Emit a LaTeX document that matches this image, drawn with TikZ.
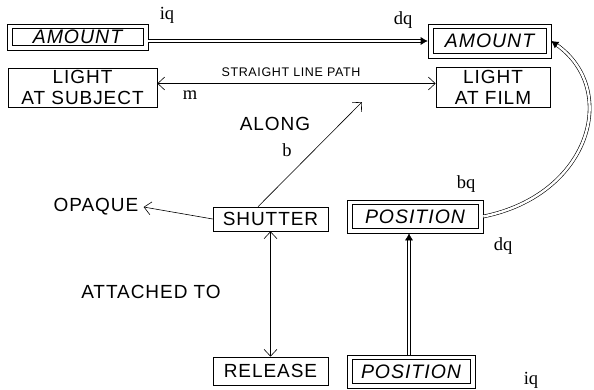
\documentclass[tikz,border=0pt]{standalone}
\usepackage{fontspec}
\setmainfont{Liberation Serif}
\setsansfont{Liberation Sans}[LetterSpace=5]
\usetikzlibrary{arrows.meta}
\begin{document}
\begin{tikzpicture}[x=1pt,y=-1pt,line width=0.6pt,
  boxfont/.style={font=\sffamily\fontsize{19}{21}\selectfont},
  plain/.style={draw,boxfont,align=center,inner sep=0pt},
  % framed box with a second frame drawn inside it
  dbox/.style={draw,inner sep=0pt,
    font=\sffamily\itshape\fontsize{19.5}{22}\selectfont,
    path picture={\draw[line width=0.6pt]
      ([shift={(5pt,-4.5pt)}]path picture bounding box.north west) rectangle
      ([shift={(-5pt,4.5pt)}]path picture bounding box.south east);}},
  rel/.style={boxfont,inner sep=1pt},
  tag/.style={font=\rmfamily\fontsize{18.5}{21}\selectfont,inner sep=0pt},
  barb/.style={-{Straight Barb[length=7pt,width=13pt]}},
  dbarb/.style={{Straight Barb[length=7pt,width=13pt]}-{Straight Barb[length=7pt,width=13pt]}},
  dline/.style={double,double distance=2.4pt,-{Latex[length=7pt,width=8pt]}}]
\useasboundingbox (0,0) rectangle (594,389);

% frames
\node[dbox,minimum width=141pt,minimum height=26pt] (amtL) at (77.5,37) {AMOUNT};
\node[dbox,minimum width=123pt,minimum height=34pt] (amtR) at (489.5,41) {AMOUNT};
\node[plain,minimum width=149pt,minimum height=39pt] (lightS) at (82.5,87.5) {LIGHT\\AT SUBJECT};
\node[plain,minimum width=114pt,minimum height=40pt] (lightF) at (493,87) {LIGHT\\AT FILM};
\node[plain,minimum width=115pt,minimum height=24pt] (shutter) at (270.5,219) {SHUTTER};
\node[dbox,minimum width=136pt,minimum height=33pt] (posT) at (415,216.5) {POSITION};
\node[plain,minimum width=115pt,minimum height=28pt] (release) at (270.5,371) {RELEASE};
\node[dbox,minimum width=128pt,minimum height=33pt] (posB) at (411,371.5) {POSITION};

% free-standing words and tags
\node[rel,inner sep=5pt] (opaque) at (96,207) {OPAQUE};
\node[rel] (along) at (275,124) {ALONG};
\node[rel] (attached) at (151,292) {ATTACHED TO};
\node[font=\sffamily\fontsize{12.5}{15}\selectfont,inner sep=0pt] (slp) at (291,72) {STRAIGHT LINE PATH};
\node[tag] (iqA) at (167,15) {iq};
\node[tag] (dqA) at (403,20) {dq};
\node[tag] (mA) at (190,95) {m};
\node[tag] (bA) at (287,150) {b};
\node[tag] (bqA) at (466,184) {bq};
\node[tag] (dqB) at (503,246) {dq};
\node[tag] (iqB) at (531,380) {iq};

% connectors
\coordinate (onpath) at (362,102);
\draw[dline] (amtL.east |- amtR.west) -- (amtR.west);
\draw[dbarb] ([yshift=4pt]lightS.east) -- ([yshift=4pt]lightS.east -| lightF.west);
\draw[barb] ([xshift=-12.5pt]shutter.north) -- (onpath);
\draw[barb] (shutter.west) -- (opaque.east);
\draw[dbarb] (shutter.south) -- (release.north);
\draw[dline] (posB.north -| 409,0) -- (posT.south -| 409,0);
\draw[dline] (posT.east) .. controls (590,195) and (620,90) .. (amtR.east);
\end{tikzpicture}
\end{document}
